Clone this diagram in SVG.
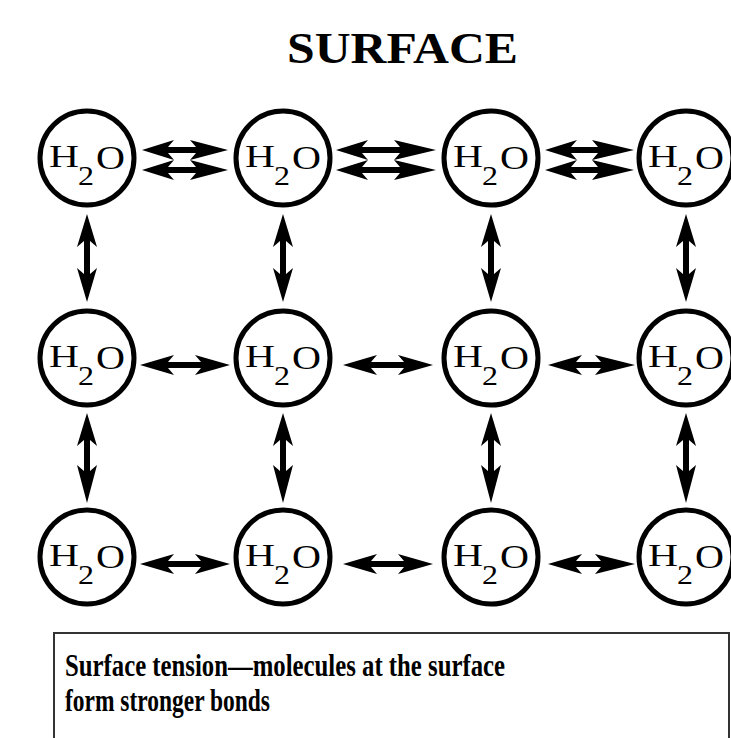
<svg xmlns="http://www.w3.org/2000/svg" width="731" height="738" viewBox="0 0 731 738">
<style>
.mol{fill:#fff;stroke:#000;stroke-width:5}
.lbl{font-family:"Liberation Serif",serif;fill:#000}
.arr{fill:#000}
.title{font-family:"Liberation Serif",serif;font-weight:bold;font-size:44px}
.cap{font-family:"Liberation Serif",serif;font-weight:bold;font-size:31px}
</style>
<defs>
<g id="m">
<circle class="mol" r="47"/>
<text class="lbl" x="-38" y="9" font-size="32" textLength="30" lengthAdjust="spacingAndGlyphs">H</text>
<text class="lbl" x="-9" y="27" font-size="28" textLength="16" lengthAdjust="spacingAndGlyphs">2</text>
<text class="lbl" x="9" y="11" font-size="34" textLength="29" lengthAdjust="spacingAndGlyphs">O</text>
</g>
</defs>
<rect width="731" height="738" fill="#fff"/>
<text class="title" x="287" y="63" textLength="231" lengthAdjust="spacingAndGlyphs">SURFACE</text>
<g id="connectors">
<!-- row 1 double arrows -->
<path class="arr" d="M142,150 L174,140 L168,147 L196,147 L190,140 L228,150 L190,160 L196,153 L168,153 L174,160 Z"/>
<path class="arr" d="M142,170 L174,160 L168,167 L196,167 L190,160 L228,170 L190,180 L196,173 L168,173 L174,180 Z"/>
<path class="arr" d="M336,150 L368,140 L362,147 L400,147 L394,140 L436,150 L394,160 L400,153 L362,153 L368,160 Z"/>
<path class="arr" d="M336,170 L368,160 L362,167 L400,167 L394,160 L436,170 L394,180 L400,173 L362,173 L368,180 Z"/>
<path class="arr" d="M545,150 L577,140 L571,147 L598,147 L592,140 L634,150 L592,160 L598,153 L571,153 L577,160 Z"/>
<path class="arr" d="M545,170 L577,160 L571,167 L598,167 L592,160 L634,170 L592,180 L598,173 L571,173 L577,180 Z"/>
<!-- row 2 -->
<path class="arr" d="M140,365 L174,355 L168,362 L201,362 L195,355 L230,365 L195,375 L201,368 L168,368 L174,375 Z"/>
<path class="arr" d="M343,365 L377,355 L371,362 L404,362 L398,355 L433,365 L398,375 L404,368 L371,368 L377,375 Z"/>
<path class="arr" d="M548,365 L582,355 L576,362 L601,362 L595,355 L635,365 L595,375 L601,368 L576,368 L582,375 Z"/>
<!-- row 3 -->
<path class="arr" d="M140,564 L174,554 L168,561 L201,561 L195,554 L230,564 L195,574 L201,567 L168,567 L174,574 Z"/>
<path class="arr" d="M343,564 L377,554 L371,561 L404,561 L398,554 L433,564 L398,574 L404,567 L371,567 L377,574 Z"/>
<path class="arr" d="M548,564 L582,554 L576,561 L601,561 L595,554 L635,564 L595,574 L601,567 L576,567 L582,574 Z"/>
<!-- vertical rows 1-2 -->
<path class="arr" d="M87,214 L97,247 L90,241 L90,274 L97,268 L87,302 L77,268 L84,274 L84,241 L77,247 Z"/>
<path class="arr" d="M283,214 L293,247 L286,241 L286,274 L293,268 L283,302 L273,268 L280,274 L280,241 L273,247 Z"/>
<path class="arr" d="M491,214 L501,247 L494,241 L494,274 L501,268 L491,302 L481,268 L488,274 L488,241 L481,247 Z"/>
<path class="arr" d="M686,214 L696,247 L689,241 L689,274 L696,268 L686,302 L676,268 L683,274 L683,241 L676,247 Z"/>
<!-- vertical rows 2-3 -->
<path class="arr" d="M87,413 L97,446 L90,440 L90,471 L97,465 L87,503 L77,465 L84,471 L84,440 L77,446 Z"/>
<path class="arr" d="M283,413 L293,446 L286,440 L286,471 L293,465 L283,503 L273,465 L280,471 L280,440 L273,446 Z"/>
<path class="arr" d="M491,413 L501,446 L494,440 L494,471 L501,465 L491,503 L481,465 L488,471 L488,440 L481,446 Z"/>
<path class="arr" d="M686,413 L696,446 L689,440 L689,471 L696,465 L686,503 L676,465 L683,471 L683,440 L676,446 Z"/>
</g>
<g id="n11"><use href="#m" x="87" y="158"/></g>
<g id="n12"><use href="#m" x="283" y="158"/></g>
<g id="n13"><use href="#m" x="491" y="158"/></g>
<g id="n14"><use href="#m" x="686" y="158"/></g>
<g id="n21"><use href="#m" x="87" y="358"/></g>
<g id="n22"><use href="#m" x="283" y="358"/></g>
<g id="n23"><use href="#m" x="491" y="358"/></g>
<g id="n24"><use href="#m" x="686" y="358"/></g>
<g id="n31"><use href="#m" x="87" y="557"/></g>
<g id="n32"><use href="#m" x="283" y="557"/></g>
<g id="n33"><use href="#m" x="491" y="557"/></g>
<g id="n34"><use href="#m" x="686" y="557"/></g>
<g id="caption">
<rect x="54" y="633" width="675" height="130" fill="#fff" stroke="#333" stroke-width="2"/>
<text class="cap" x="65" y="676" textLength="440" lengthAdjust="spacingAndGlyphs">Surface tension—molecules at the surface</text>
<text class="cap" x="65" y="711" textLength="205" lengthAdjust="spacingAndGlyphs">form stronger bonds</text>
</g>
</svg>
